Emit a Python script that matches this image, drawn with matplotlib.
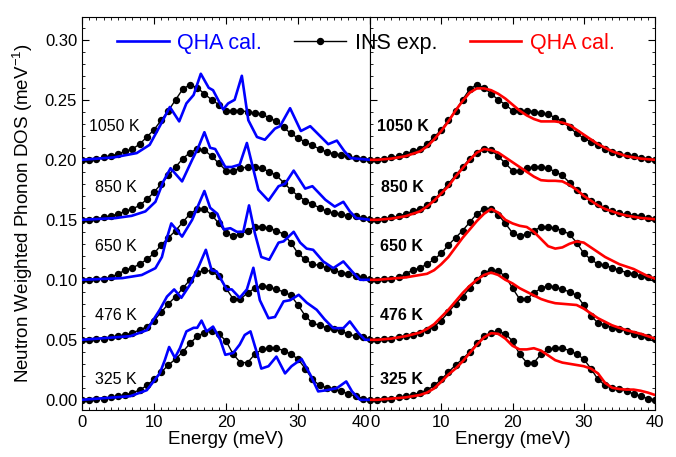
import numpy as np
import matplotlib.pyplot as plt
from matplotlib.lines import Line2D
from matplotlib.ticker import MultipleLocator

plt.rcParams['font.family'] = ['Liberation Sans', 'DejaVu Sans']
plt.rcParams['mathtext.fontset'] = 'custom'
plt.rcParams['mathtext.rm'] = 'Liberation Sans'
plt.rcParams['mathtext.it'] = 'Liberation Sans:italic'

# ---- data (values relative to each curve's offset) ----
temps = ['325 K', '476 K', '650 K', '850 K', '1050 K']
offsets = [0.0, 0.05, 0.10, 0.15, 0.20]

energy = np.arange(0, 41)  # 1 meV grid for INS and red QHA

ins_325 = [0, 0, 0.001, 0.001, 0.002, 0.003, 0.004, 0.006, 0.008, 0.012, 0.017,
           0.023, 0.029, 0.034, 0.040, 0.047, 0.053, 0.056, 0.057, 0.055, 0.049,
           0.038, 0.031, 0.031, 0.038, 0.042, 0.043, 0.043, 0.041, 0.038, 0.034,
           0.026, 0.017, 0.012, 0.010, 0.009, 0.007, 0.005, 0.003, 0.001, 0.0]
ins_476 = [0, 0, 0.001, 0.001, 0.002, 0.003, 0.004, 0.006, 0.008, 0.011, 0.016,
           0.023, 0.030, 0.036, 0.043, 0.050, 0.056, 0.058, 0.057, 0.053, 0.043,
           0.034, 0.034, 0.039, 0.043, 0.045, 0.044, 0.042, 0.040, 0.037, 0.029,
           0.020, 0.014, 0.012, 0.010, 0.009, 0.007, 0.005, 0.003, 0.002, 0.001]
ins_650 = [0, 0, 0.0005, 0.001, 0.002, 0.005, 0.008, 0.010, 0.013, 0.017, 0.022,
           0.029, 0.035, 0.041, 0.048, 0.055, 0.059, 0.059, 0.054, 0.047, 0.039,
           0.0365, 0.038, 0.041, 0.044, 0.044, 0.043, 0.041, 0.038, 0.031, 0.022,
           0.017, 0.013, 0.012, 0.010, 0.008, 0.006, 0.005, 0.003, 0.002, 0.001]
ins_850 = [0, 0, 0.001, 0.002, 0.003, 0.005, 0.007, 0.009, 0.012, 0.017, 0.023,
           0.030, 0.037, 0.044, 0.051, 0.056, 0.059, 0.058, 0.053, 0.047, 0.041,
           0.041, 0.043, 0.044, 0.044, 0.043, 0.040, 0.037, 0.031, 0.025, 0.020,
           0.016, 0.013, 0.010, 0.007, 0.0055, 0.0045, 0.0035, 0.003, 0.0015, 0.001]
ins_1050 = [0, 0, 0.001, 0.002, 0.003, 0.005, 0.007, 0.009, 0.013, 0.019, 0.025,
            0.033, 0.041, 0.050, 0.059, 0.0625, 0.060, 0.055, 0.050, 0.046, 0.041,
            0.041, 0.041, 0.040, 0.039, 0.038, 0.035, 0.032, 0.027, 0.022, 0.018,
            0.015, 0.012, 0.009, 0.0065, 0.005, 0.004, 0.003, 0.0015, 0.001, 0.0]

red_325 = [0, 0, 0.0005, 0.001, 0.0015, 0.002, 0.003, 0.004, 0.006, 0.0095, 0.015,
           0.021, 0.026, 0.032, 0.039, 0.046, 0.052, 0.0555, 0.055, 0.051, 0.045,
           0.042, 0.042, 0.043, 0.041, 0.037, 0.033, 0.031, 0.030, 0.029, 0.028,
           0.026, 0.022, 0.014, 0.010, 0.009, 0.0085, 0.0085, 0.0075, 0.006, 0.004]
red_476 = [0, 0, 0.0005, 0.001, 0.002, 0.003, 0.0045, 0.006, 0.009, 0.013, 0.019,
           0.025, 0.032, 0.039, 0.045, 0.050, 0.054, 0.056, 0.054, 0.050, 0.047,
           0.043, 0.040, 0.037, 0.034, 0.032, 0.0305, 0.030, 0.0295, 0.029, 0.026,
           0.022, 0.018, 0.015, 0.012, 0.010, 0.008, 0.0065, 0.005, 0.003, 0.001]
red_650 = [0, 0, 0.0005, 0.001, 0.0015, 0.002, 0.003, 0.004, 0.005, 0.008, 0.013,
           0.019, 0.027, 0.035, 0.042, 0.049, 0.055, 0.059, 0.056, 0.050, 0.047,
           0.045, 0.044, 0.040, 0.034, 0.028, 0.026, 0.027, 0.030, 0.032, 0.031,
           0.027, 0.023, 0.019, 0.016, 0.013, 0.011, 0.009, 0.006, 0.003, 0.001]
red_850 = [0, 0, 0.0005, 0.001, 0.002, 0.003, 0.005, 0.007, 0.011, 0.016, 0.022,
           0.028, 0.036, 0.043, 0.050, 0.056, 0.059, 0.058, 0.056, 0.052, 0.048,
           0.044, 0.040, 0.036, 0.033, 0.0325, 0.0325, 0.032, 0.029, 0.025, 0.020,
           0.016, 0.012, 0.009, 0.007, 0.005, 0.0035, 0.0025, 0.0015, 0.001, 0.0005]
red_1050 = [0, 0, 0.0005, 0.001, 0.002, 0.003, 0.005, 0.007, 0.011, 0.017, 0.024,
            0.032, 0.041, 0.049, 0.056, 0.0595, 0.0595, 0.058, 0.055, 0.051, 0.046,
            0.041, 0.037, 0.034, 0.032, 0.032, 0.032, 0.031, 0.029, 0.025, 0.021,
            0.017, 0.013, 0.010, 0.007, 0.005, 0.003, 0.002, 0.001, 0.0005, 0.0]

# blue QHA curves: (energy, value) pairs read at peaks / troughs
blue_e_325 = [0, 6.7, 9.0, 10.8, 11.5, 12.1, 12.9, 13.6, 14.5, 15.5, 16.0, 16.6, 17.3,
              18.2, 19.2, 19.9, 21.0, 21.9, 22.6, 23.4, 24.3, 24.9, 25.9, 27.0, 28.2,
              29.1, 30.5, 31.7, 32.8, 34.0, 35.4, 36.7, 37.5, 38.6, 40]
blue_v_325 = [0, 0.003, 0.008, 0.022, 0.033, 0.044, 0.035, 0.043, 0.057, 0.060, 0.060,
              0.066, 0.057, 0.061, 0.050, 0.0375, 0.039, 0.046, 0.054, 0.057, 0.039,
              0.026, 0.028, 0.036, 0.022, 0.028, 0.034, 0.021, 0.007, 0.008, 0.0097,
              0.0153, 0.007, 0.0, 0.0]
blue_e_476 = [0, 6.7, 9.0, 10.8, 11.8, 12.8, 13.8, 15.0, 16.2, 17.2, 18.0, 18.7, 20.1,
              20.8, 21.9, 22.9, 23.8, 24.7, 25.9, 26.8, 28.0, 28.9, 30.1, 31.2, 32.6,
              33.7, 34.9, 36.3, 37.2, 38.4, 39.3, 40]
blue_v_476 = [0, 0.003, 0.008, 0.025, 0.036, 0.042, 0.035, 0.046, 0.061, 0.075, 0.058,
              0.057, 0.042, 0.042, 0.035, 0.042, 0.060, 0.033, 0.018, 0.019, 0.032,
              0.033, 0.0375, 0.031, 0.025, 0.017, 0.0097, 0.0097, 0.0153, 0.0056, 0.0, 0.0]
blue_e_650 = [0, 5.6, 8.3, 10.2, 11.1, 11.6, 12.4, 13.9, 15.3, 16.0, 17.0, 17.8, 18.8,
              19.7, 20.6, 21.5, 22.4, 23.2, 24.0, 24.9, 26.0, 27.3, 28.0, 29.4, 30.3,
              31.2, 32.1, 33.5, 34.9, 36.3, 37.5, 38.6, 40]
blue_v_650 = [0, 0.0014, 0.004, 0.0097, 0.019, 0.031, 0.047, 0.036, 0.050, 0.060, 0.074,
              0.060, 0.055, 0.042, 0.043, 0.040, 0.040, 0.062, 0.039, 0.019, 0.0167,
              0.031, 0.032, 0.040, 0.031, 0.026, 0.025, 0.0153, 0.0097, 0.0153, 0.007,
              0.0, 0.0]
blue_e_850 = [0, 4.6, 6.9, 8.8, 10.2, 11.3, 12.3, 13.9, 15.3, 16.2, 17.0, 17.8, 18.5,
              19.9, 20.8, 21.9, 22.9, 23.8, 24.5, 25.9, 27.3, 28.2, 29.4, 31.0, 32.0,
              33.8, 35.1, 36.3, 37.2, 38.1, 40]
blue_v_850 = [0, 0.0014, 0.0033, 0.007, 0.015, 0.032, 0.043, 0.032, 0.050, 0.061, 0.073,
              0.060, 0.059, 0.044, 0.044, 0.046, 0.064, 0.042, 0.025, 0.016, 0.028,
              0.030, 0.041, 0.026, 0.028, 0.0167, 0.011, 0.015, 0.007, 0.0014, 0.0]
blue_e_1050 = [0, 4.4, 7.6, 9.4, 10.8, 12.2, 13.5, 14.5, 15.5, 16.5, 17.6, 18.2, 19.6,
               20.3, 21.2, 22.2, 23.1, 24.3, 25.4, 26.8, 27.5, 28.9, 30.4, 31.7, 33.2,
               34.2, 35.4, 36.4, 37.3, 40]
blue_v_1050 = [0, 0.002, 0.0056, 0.0125, 0.028, 0.044, 0.032, 0.047, 0.054, 0.0717, 0.060,
               0.058, 0.042, 0.047, 0.050, 0.070, 0.033, 0.019, 0.0167, 0.026, 0.028,
               0.043, 0.024, 0.028, 0.019, 0.013, 0.016, 0.0075, 0.0014, 0.0]

xticks = [0, 10, 20, 30, 40]

ins_all = [ins_325, ins_476, ins_650, ins_850, ins_1050]
red_all = [red_325, red_476, red_650, red_850, red_1050]
blue_all = [(blue_e_325, blue_v_325), (blue_e_476, blue_v_476), (blue_e_650, blue_v_650),
            (blue_e_850, blue_v_850), (blue_e_1050, blue_v_1050)]

# ---- figure ----
fig = plt.figure(figsize=(6.76, 4.57), dpi=100)
ax1 = fig.add_axes([82 / 676, 47 / 457, 288 / 676, 393 / 457])
ax2 = fig.add_axes([370 / 676, 47 / 457, 285 / 676, 393 / 457], sharey=ax1)

for i, off in enumerate(offsets):
    ins = np.array(ins_all[i]) + off
    for ax in (ax1, ax2):
        ax.plot(energy, ins, color='black', lw=1.0, marker='o', ms=4.3,
                mfc='black', mec='black', zorder=2)
    be, bv = blue_all[i]
    ax1.plot(be, np.array(bv) + off, color='#0000ff', lw=1.9, zorder=3,
             solid_joinstyle='round')
    ax2.plot(energy, np.array(red_all[i]) + off, color='#ff0000', lw=1.9, zorder=3,
             solid_joinstyle='round')

label_y = [0.017, 0.070, 0.1275, 0.177, 0.228]
left_x = [1.8, 1.8, 1.8, 1.8, 1.0]
right_x = [1.4, 1.4, 1.4, 1.5, 1.0]
for i, t in enumerate(temps):
    ax1.text(left_x[i], label_y[i], t, fontsize=11.5, va='center', ha='left')
    ax2.text(right_x[i], label_y[i], t, fontsize=11.5, va='center', ha='left',
             fontweight='bold')

for ax in (ax1, ax2):
    ax.set_xlim(0, 40)
    ax.set_ylim(-0.0085, 0.319)
    ax.set_xticks(xticks)
    ax.xaxis.set_minor_locator(MultipleLocator(1))
    ax.yaxis.set_major_locator(MultipleLocator(0.05))
    ax.yaxis.set_minor_locator(MultipleLocator(0.01))
    ax.tick_params(which='both', direction='in', top=True, labelsize=12)
    ax.tick_params(which='major', length=5)
    ax.tick_params(which='minor', length=2.5)
    ax.set_xlabel('Energy (meV)', fontsize=13.5, labelpad=1)

ax1.tick_params(which='both', left=True, right=False)
ax2.tick_params(which='both', left=True, right=True, labelleft=False)
ax1.yaxis.set_major_formatter(plt.FuncFormatter(lambda v, p: f'{v:.2f}'))
ax1.set_ylabel('Neutron Weighted Phonon DOS (meV$^{-1}$)', fontsize=13.5, labelpad=7)

# keep the shared "40 | 0" labels from colliding at the panel joint
ax1.get_xticklabels()[-1].set_horizontalalignment('right')
ax2.get_xticklabels()[0].set_horizontalalignment('left')

handles = [Line2D([], [], color='#0000ff', lw=1.9),
           Line2D([], [], color='black', lw=1.0, marker='o', ms=4.3),
           Line2D([], [], color='#ff0000', lw=1.9)]
fig.legend(handles, ['QHA cal.', 'INS exp.', 'QHA cal.'], ncol=3,
           loc='center left', bbox_to_anchor=(117 / 676, 1 - 43 / 457),
           frameon=False, fontsize=15.5, borderpad=0, borderaxespad=0,
           handlelength=2.4, handletextpad=0.4, columnspacing=1.5,
           labelcolor=['#0000ff', 'black', '#ff0000'])

fig.savefig('out.png', dpi=100)
